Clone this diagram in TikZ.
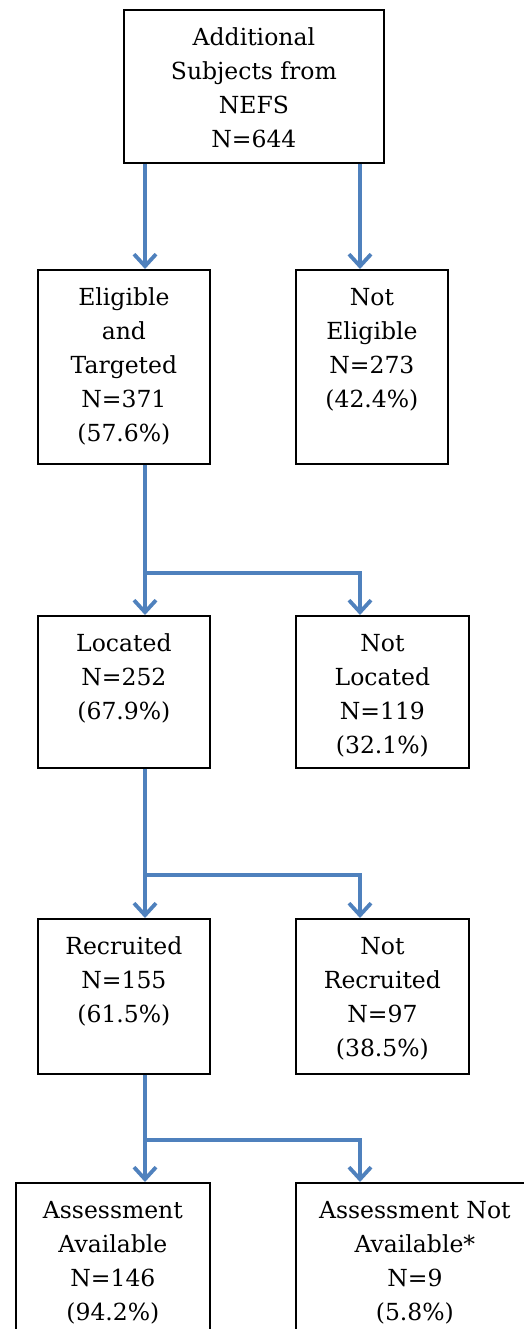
\documentclass[tikz,border=0pt]{standalone}
\usepackage{fontspec}
\setmainfont{DejaVu Serif}
\usetikzlibrary{arrows.meta}
\definecolor{flowblue}{HTML}{4F81BD}
% fixed-size box content: width, height, centred lines set from the top
\newcommand\boxlines[3]{\parbox[c][#2][t]{#1}{\centering\fontsize{23.5}{34}\selectfont\rule{0pt}{36pt}#3}}
\tikzset{
  stagebox/.style={draw=black, line width=1.8pt, inner sep=0pt, anchor=north west, fill=white},
  conn/.style={draw=flowblue, line width=3.8pt, -{Straight Barb[length=12pt,width=22pt,line width=3.8pt]}}
}
\begin{document}
\begin{tikzpicture}[x=1pt,y=-1pt]
\clip (0,0) rectangle (524,1329);
\fill[white] (0,0) rectangle (524,1329);

% column positions of the connectors
\coordinate (lx) at (145,0);
\coordinate (rx) at (360,0);

% boxes
\node[stagebox] (top) at (123,9) {\boxlines{260pt}{153pt}{Additional\\Subjects from\\NEFS\\N=644}};
\node[stagebox] (elig) at (37,269) {\boxlines{172pt}{194pt}{Eligible\\and\\Targeted\\N=371\\(57.6\%)}};
\node[stagebox] (nelig) at (295,269) {\boxlines{152pt}{194pt}{Not\\Eligible\\N=273\\(42.4\%)}};
\node[stagebox] (loc) at (37,615) {\boxlines{172pt}{152pt}{Located\\N=252\\(67.9\%)}};
\node[stagebox] (nloc) at (295,615) {\boxlines{173pt}{152pt}{Not\\Located\\N=119\\(32.1\%)}};
\node[stagebox] (rec) at (37,918) {\boxlines{172pt}{155pt}{Recruited\\N=155\\(61.5\%)}};
\node[stagebox] (nrec) at (295,918) {\boxlines{173pt}{155pt}{Not\\Recruited\\N=97\\(38.5\%)}};
\node[stagebox] (ass) at (15,1182) {\boxlines{194pt}{170pt}{Assessment\\Available\\N=146\\(94.2\%)}};
\node[stagebox] (nass) at (295,1182) {\boxlines{238pt}{170pt}{Assessment Not\\Available*\\N=9\\(5.8\%)}};

% junction points of the branches
\coordinate (j1) at (145,573);
\coordinate (j2) at (145,875);
\coordinate (j3) at (145,1140);

% connectors
\draw[conn] (top.south -| lx) -- (elig.north -| lx);
\draw[conn] (top.south -| rx) -- (nelig.north -| rx);

\draw[conn] (elig.south -| lx) -- (loc.north -| lx);
\draw[conn] (j1) -| (nloc.north -| rx);

\draw[conn] (loc.south -| lx) -- (rec.north -| lx);
\draw[conn] (j2) -| (nrec.north -| rx);

\draw[conn] (rec.south -| lx) -- (ass.north -| lx);
\draw[conn] (j3) -| (nass.north -| rx);
\end{tikzpicture}
\end{document}
